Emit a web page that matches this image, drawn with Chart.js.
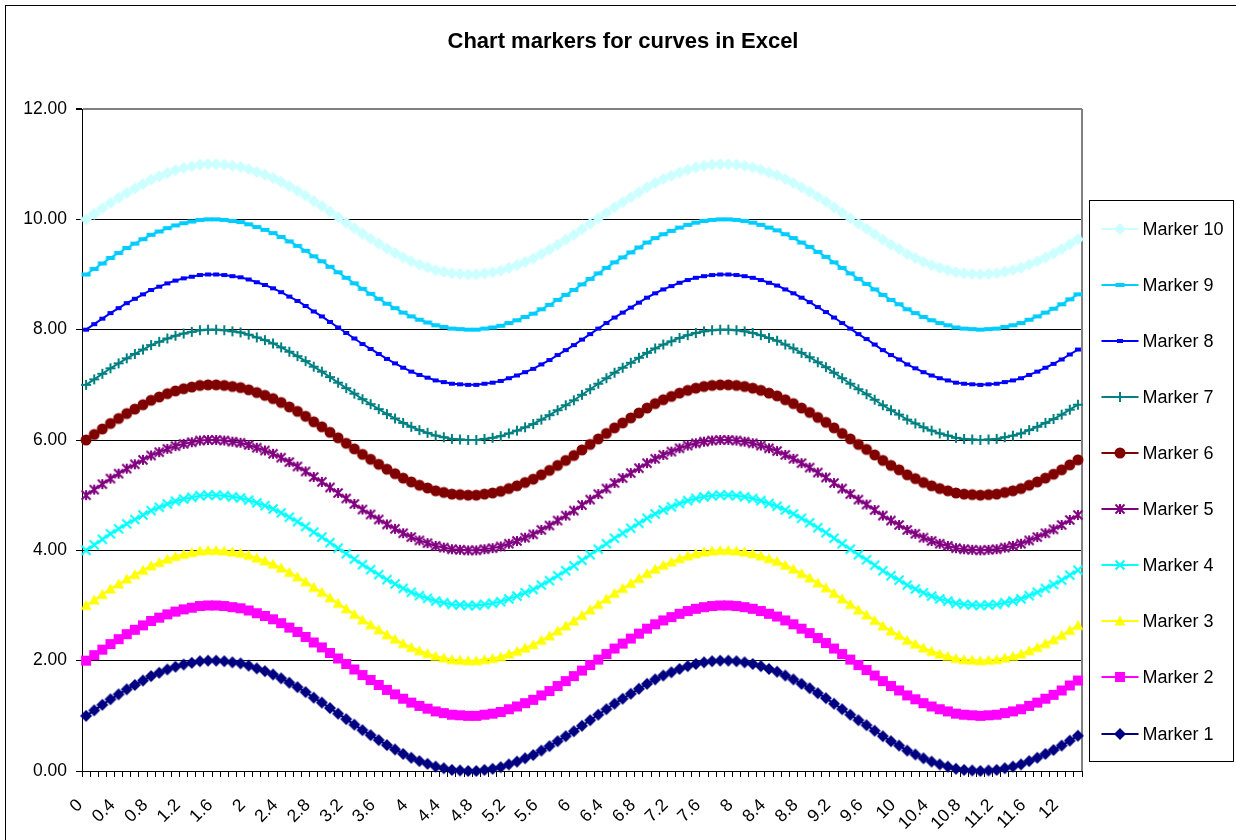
<!DOCTYPE html>
<html>
<head>
<meta charset="utf-8">
<title>Chart markers for curves in Excel</title>
<script src="https://cdn.jsdelivr.net/npm/chart.js@4/dist/chart.umd.min.js"></script>
<style>
  html, body { margin: 0; padding: 0; background: #fff; }
  #wrap { position: relative; width: 1236px; height: 840px; }
</style>
</head>
<body>
<div id="wrap"><canvas id="c" width="1236" height="840"></canvas></div>
<script>
// x categories (step 0.1)
const xLabels = [
  '0','0.1','0.2','0.3','0.4','0.5','0.6','0.7','0.8','0.9',
  '1','1.1','1.2','1.3','1.4','1.5','1.6','1.7','1.8','1.9',
  '2','2.1','2.2','2.3','2.4','2.5','2.6','2.7','2.8','2.9',
  '3','3.1','3.2','3.3','3.4','3.5','3.6','3.7','3.8','3.9',
  '4','4.1','4.2','4.3','4.4','4.5','4.6','4.7','4.8','4.9',
  '5','5.1','5.2','5.3','5.4','5.5','5.6','5.7','5.8','5.9',
  '6','6.1','6.2','6.3','6.4','6.5','6.6','6.7','6.8','6.9',
  '7','7.1','7.2','7.3','7.4','7.5','7.6','7.7','7.8','7.9',
  '8','8.1','8.2','8.3','8.4','8.5','8.6','8.7','8.8','8.9',
  '9','9.1','9.2','9.3','9.4','9.5','9.6','9.7','9.8','9.9',
  '10','10.1','10.2','10.3','10.4','10.5','10.6','10.7','10.8','10.9',
  '11','11.1','11.2','11.3','11.4','11.5','11.6','11.7','11.8','11.9',
  '12','12.1','12.2'
];

// categories that carry a visible label on the x axis
const tickLabels = [
  '0','0.4','0.8','1.2','1.6','2','2.4','2.8','3.2','3.6','4','4.4','4.8','5.2','5.6','6',
  '6.4','6.8','7.2','7.6','8','8.4','8.8','9.2','9.6','10','10.4','10.8','11.2','11.6','12'
];

// the common wave shape shared by all curves
const wave = [
   0.00, 0.10, 0.20, 0.30, 0.39, 0.48, 0.56, 0.64, 0.72, 0.78,
   0.84, 0.89, 0.93, 0.96, 0.99, 1.00, 1.00, 0.99, 0.97, 0.95,
   0.91, 0.86, 0.81, 0.75, 0.68, 0.60, 0.52, 0.43, 0.33, 0.24,
   0.14, 0.04,-0.06,-0.16,-0.26,-0.35,-0.44,-0.53,-0.61,-0.69,
  -0.76,-0.82,-0.87,-0.92,-0.95,-0.98,-0.99,-1.00,-1.00,-0.98,
  -0.96,-0.93,-0.88,-0.83,-0.77,-0.71,-0.63,-0.55,-0.46,-0.37,
  -0.28,-0.18,-0.08, 0.02, 0.12, 0.22, 0.31, 0.40, 0.49, 0.58,
   0.66, 0.73, 0.79, 0.85, 0.90, 0.94, 0.97, 0.99, 1.00, 1.00,
   0.99, 0.97, 0.94, 0.90, 0.85, 0.80, 0.73, 0.66, 0.58, 0.50,
   0.41, 0.32, 0.22, 0.12, 0.02,-0.08,-0.17,-0.27,-0.37,-0.46,
  -0.54,-0.63,-0.70,-0.77,-0.83,-0.88,-0.92,-0.96,-0.98,-0.99,
  -1.00,-0.99,-0.98,-0.95,-0.92,-0.88,-0.82,-0.76,-0.69,-0.62,
  -0.54,-0.45,-0.36
];

// series names and the baseline level each curve sits on
const seriesNames  = ['Marker 1','Marker 2','Marker 3','Marker 4','Marker 5',
                      'Marker 6','Marker 7','Marker 8','Marker 9','Marker 10'];
const seriesLevels = [1, 2, 3, 4, 5, 6, 7, 8, 9, 10];

// y axis tick values
const yTicks = [0, 2, 4, 6, 8, 10, 12];

const seriesColors  = ['#000080','#FF00FF','#FFFF00','#00FFFF','#800080',
                       '#800000','#008080','#0000FF','#00CCFF','#CCFFFF'];
const seriesMarkers = ['diamond','square','triangle','x','star',
                       'circle','plus','shortBar','longBar','diamond'];

const FONT = '"Liberation Sans", Arial, sans-serif';

// draw a marker glyph into a small canvas used as a point style
function markerImage(kind, color) {
  const s = 18, c = s / 2;
  const cv = document.createElement('canvas');
  cv.width = s; cv.height = s;
  const g = cv.getContext('2d');
  g.fillStyle = color;
  g.strokeStyle = color;
  g.lineWidth = 2;
  g.lineCap = 'square';
  g.beginPath();
  switch (kind) {
    case 'diamond':
      g.moveTo(c, c - 6); g.lineTo(c + 6, c); g.lineTo(c, c + 6); g.lineTo(c - 6, c);
      g.closePath(); g.fill(); break;
    case 'square':
      g.fillRect(c - 5, c - 5, 10, 10); break;
    case 'triangle':
      g.moveTo(c, c - 5.5); g.lineTo(c + 5.5, c + 4.5); g.lineTo(c - 5.5, c + 4.5);
      g.closePath(); g.fill(); break;
    case 'x':
      g.lineCap = 'butt';
      g.moveTo(c - 4.5, c - 4.5); g.lineTo(c + 4.5, c + 4.5);
      g.moveTo(c + 4.5, c - 4.5); g.lineTo(c - 4.5, c + 4.5);
      g.stroke(); break;
    case 'star':
      g.lineCap = 'butt';
      g.moveTo(c - 4.5, c - 4.5); g.lineTo(c + 4.5, c + 4.5);
      g.moveTo(c + 4.5, c - 4.5); g.lineTo(c - 4.5, c + 4.5);
      g.moveTo(c, c - 5); g.lineTo(c, c + 5);
      g.stroke(); break;
    case 'circle':
      g.arc(c, c, 5.5, 0, Math.PI * 2); g.fill(); break;
    case 'plus':
      g.lineCap = 'butt';
      g.moveTo(c - 5, c); g.lineTo(c + 5, c);
      g.moveTo(c, c - 5); g.lineTo(c, c + 5);
      g.stroke(); break;
    case 'shortBar':
      g.fillRect(c - 3, c - 2, 6, 4); break;
    case 'longBar':
      g.fillRect(c - 4.5, c - 2, 9, 4); break;
  }
  return cv;
}

const datasets = seriesNames.map((name, i) => {
  const img = markerImage(seriesMarkers[i], seriesColors[i]);
  return {
    label: name,
    data: wave.map(v => Math.round((v + seriesLevels[i]) * 100) / 100),
    borderColor: seriesColors[i],
    backgroundColor: seriesColors[i],
    borderWidth: 2,
    tension: 0,
    pointStyle: img,
    pointRadius: 5,
    pointHoverRadius: 5,
    clip: 6
  };
});

// white page, outer chart frame and the grey right edge of the plot area
const framePlugin = {
  id: 'frame',
  beforeDraw(chart) {
    const { ctx } = chart;
    ctx.save();
    ctx.fillStyle = '#fff';
    ctx.fillRect(0, 0, chart.width, chart.height);
    ctx.strokeStyle = '#000';
    ctx.lineWidth = 1;
    ctx.strokeRect(5.5, 5.5, chart.width + 20, chart.height + 20);
    ctx.restore();
  },
  beforeDatasetsDraw(chart) {
    const { ctx, chartArea: a } = chart;
    ctx.save();
    ctx.strokeStyle = '#808080';
    ctx.lineWidth = 2;
    ctx.beginPath();
    ctx.moveTo(Math.round(a.right), a.top);
    ctx.lineTo(Math.round(a.right), a.bottom);
    ctx.stroke();
    ctx.restore();
  }
};

// boxed legend on the right, last series at the top
const legendPlugin = {
  id: 'markerLegend',
  afterDraw(chart) {
    const { ctx, chartArea: a } = chart;
    const left = Math.round(a.right) + 7.5;
    const right = chart.width - 2.5;
    const top = Math.round(a.top) + 91.5;
    const bottom = Math.round(a.bottom) - 9.5;
    ctx.save();
    ctx.fillStyle = '#fff';
    ctx.fillRect(left, top, right - left, bottom - top);
    ctx.strokeStyle = '#000';
    ctx.lineWidth = 1;
    ctx.strokeRect(left, top, right - left, bottom - top);

    const ds = chart.data.datasets;
    const n = ds.length;
    const first = top + 28, last = bottom - 28;
    const step = (last - first) / (n - 1);
    ctx.font = '18px ' + FONT;
    ctx.textBaseline = 'middle';
    ctx.textAlign = 'left';
    for (let r = 0; r < n; r++) {
      const d = ds[n - 1 - r];
      const y = Math.round(first + r * step);
      const x0 = left + 12, x1 = left + 49;
      ctx.strokeStyle = d.borderColor;
      ctx.lineWidth = 2;
      ctx.beginPath();
      ctx.moveTo(x0, y);
      ctx.lineTo(x1, y);
      ctx.stroke();
      const img = d.pointStyle;
      ctx.drawImage(img, Math.round((x0 + x1) / 2 - img.width / 2), Math.round(y - img.height / 2));
      ctx.fillStyle = '#000';
      ctx.fillText(d.label, left + 53, y + 1);
    }
    ctx.restore();
  }
};

new Chart(document.getElementById('c'), {
  type: 'line',
  data: { labels: xLabels, datasets },
  plugins: [framePlugin, legendPlugin],
  options: {
    responsive: false,
    animation: false,
    devicePixelRatio: 1,
    events: [],
    layout: { padding: { left: 10, right: 0, top: 0, bottom: 0 } },
    plugins: {
      legend: { display: false },
      tooltip: { enabled: false },
      title: {
        display: true,
        text: 'Chart markers for curves in Excel',
        color: '#000',
        font: { family: FONT, size: 22, weight: 'bold', lineHeight: 1.2 },
        padding: { top: 28.8, bottom: 53.8 }
      }
    },
    scales: {
      x: {
        type: 'category',
        offset: true,
        grid: {
          offset: true,
          drawOnChartArea: false,
          drawTicks: true,
          tickLength: 6,
          color: '#000',
          lineWidth: 1
        },
        border: { color: '#000', width: 1 },
        ticks: {
          autoSkip: false,
          minRotation: 45,
          maxRotation: 45,
          padding: 18,
          labelOffset: -6,
          color: '#000',
          font: { family: FONT, size: 17.5 },
          callback: (v, i) => (tickLabels.includes(xLabels[i]) ? xLabels[i] : '')
        },
        afterFit: s => { s.height = 69; }
      },
      y: {
        min: yTicks[0],
        max: yTicks[yTicks.length - 1],
        afterBuildTicks: s => { s.ticks = yTicks.map(v => ({ value: v })); },
        grid: {
          color: c => (c.tick && c.tick.value === yTicks[yTicks.length - 1] ? '#808080' : '#000'),
          lineWidth: c => (c.tick && c.tick.value === yTicks[yTicks.length - 1] ? 2 : 1),
          tickLength: 6,
          tickColor: '#000'
        },
        border: { color: '#000', width: 1 },
        ticks: {
          padding: 9,
          color: '#000',
          font: { family: FONT, size: 17.5 },
          callback: v => Number(v).toFixed(2)
        },
        afterFit: s => { s.width = 72; }
      },
      // empty right-hand axis that keeps room for the legend box
      legendSpace: {
        type: 'linear',
        position: 'right',
        display: true,
        grid: { display: false, drawTicks: false },
        border: { display: false },
        ticks: { display: false },
        afterFit: s => { s.width = 154; }
      }
    }
  }
});
</script>
</body>
</html>
